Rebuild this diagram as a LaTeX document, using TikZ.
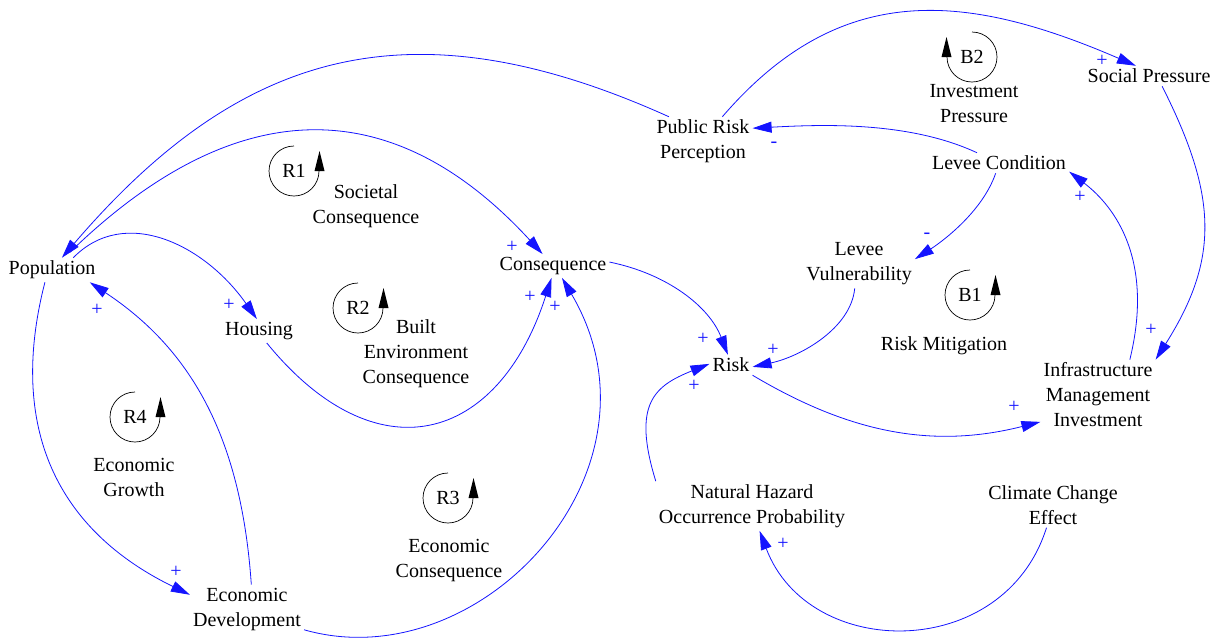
\documentclass[tikz,border=0pt]{standalone}
\usepackage{fontspec}
\setmainfont{Liberation Serif}
\usetikzlibrary{arrows.meta}
\definecolor{linkblue}{RGB}{20,20,255}
\tikzset{
  var/.style={inner sep=3pt, align=center, font=\fontsize{20}{25}\selectfont},
  link/.style={draw=linkblue, line width=0.8pt, -{Triangle[length=19pt,width=11pt]}},
  pol/.style={text=linkblue, inner sep=0pt, font=\fontsize{20}{20}\selectfont},
  loopline/.style={draw=black, line width=0.7pt},
  loopccw/.pic={
    \draw[loopline] (0,25) arc[start angle=90,end angle=360,radius=25pt];
    \fill[black] (20.5,0) -- (30.5,0) -- (25.5,20) -- cycle;
    \node[var] (-id) at (0,0) {#1};
  },
  loopcw/.pic={
    \draw[loopline] (0,25) arc[start angle=90,end angle=-180,radius=25pt];
    \fill[black] (-20.5,0) -- (-30.5,0) -- (-25.5,20) -- cycle;
    \node[var] (-id) at (0,0) {#1};
  }
}
\begin{document}
\begin{tikzpicture}[x=1pt,y=1pt]
\useasboundingbox (0,0) rectangle (1217,-638);

% variables
\node[var] (pop)   at (52,-270)    {Population};
\node[var] (hous)  at (259,-331)   {Housing};
\node[var] (cons)  at (553,-266)   {Consequence};
\node[var] (risk)  at (731,-365)   {Risk};
\node[var] (prp)   at (703,-141.5) {Public Risk\\Perception};
\node[var] (socp)  at (1149,-76)   {Social Pressure};
\node[var] (levc)  at (999,-163)   {Levee Condition};
\node[var] (levv)  at (859,-264)   {Levee\\Vulnerability};
\node[var] (infra) at (1098,-395)  {Infrastructure\\Management\\Investment};
\node[var] (nath)  at (752,-506)   {Natural Hazard\\Occurrence Probability};
\node[var] (clim)  at (1053,-505)  {Climate Change\\Effect};
\node[var] (ecod)  at (247,-609)   {Economic\\Development};

% loop markers and loop names
\pic (r1) at (294,-171) {loopccw=R1};
\pic (r2) at (358,-308) {loopccw=R2};
\pic (r4) at (135,-417) {loopccw=R4};
\pic (r3) at (448,-498) {loopccw=R3};
\pic (b1) at (970,-295) {loopccw=B1};
\pic (b2) at (972,-57)  {loopcw=B2};
\node[var] (lsoc)  at (366,-206.5) {Societal\\Consequence};
\node[var] (lbuil) at (416,-353.5) {Built\\Environment\\Consequence};
\node[var] (lgrow) at (134,-477)   {Economic\\Growth};
\node[var] (lecon) at (449,-560)   {Economic\\Consequence};
\node[var] (linv)  at (974,-103.5) {Investment\\Pressure};
\node[var] (lmit)  at (944,-346)   {Risk Mitigation};

% causal links
\draw[link] (prp.144) .. controls (410,0) and (240,-50) .. (pop.51);
\draw[link, shorten <=8pt] (pop.45) .. controls (235,-92) and (392,-90) .. (cons.131);
\draw[link] (pop.30) .. controls (125,-205) and (205,-245) .. (hous.100);
\draw[link] (hous.-57) .. controls (376,-477) and (498,-444) .. (cons.-97);
\draw[link] (ecod.-20) .. controls (480,-680) and (675,-470) .. (cons.-53);
\draw[link] (ecod.80) .. controls (241,-434) and (189,-348) .. (pop.-18);
\draw[link] (pop.-120) .. controls (7.5,-427.5) and (57,-530) .. (ecod.166);
\draw[link] (cons.4) .. controls (668,-274) and (709.5,-307) .. (risk.107);
\draw[link] (levv.-100) .. controls (851,-328) and (801,-356.5) .. (risk.-5);
\draw[link] (nath.north west) .. controls (632,-404) and (654,-386) .. (risk.177);
\draw[link] (risk.south east) .. controls (848,-432) and (931,-449.5) .. (infra.-155);
\draw[link] (clim.-106) .. controls (1004,-662.5) and (808.5,-661) .. (nath.-73);
\draw[link] (infra.48) .. controls (1154,-261) and (1116,-207.5) .. (levc.-7);
\draw[link] (socp.-38) .. controls (1217,-195) and (1220,-258) .. (infra.north east);
\draw[link] (levc.-108) .. controls (982,-213) and (940,-243) .. (levv.5);
\draw[link] (levc.155) .. controls (909,-121) and (821.5,-124.5) .. (prp.15);
\draw[link] (prp.52) .. controls (840,20) and (965,8) .. (socp.142);

% link polarities
\node[pol] (s1)  at (512,-247)  {+};
\node[pol] (s2)  at (229,-305)  {+};
\node[pol] (s3)  at (97,-310)   {+};
\node[pol] (s4)  at (530,-297)  {+};
\node[pol] (s5)  at (555,-307)  {+};
\node[pol] (s6)  at (176,-572)  {+};
\node[pol] (s7)  at (703,-339)  {+};
\node[pol] (s8)  at (773,-350)  {+};
\node[pol] (s9)  at (694,-386)  {+};
\node[pol] (s10) at (1014,-407) {+};
\node[pol] (s11) at (783,-544)  {+};
\node[pol] (s12) at (1080,-197) {+};
\node[pol] (s13) at (1151,-330) {+};
\node[pol] (s14) at (927,-236)  {-};
\node[pol] (s15) at (774,-145)  {-};
\node[pol] (s16) at (1102,-61)  {+};
\end{tikzpicture}
\end{document}
